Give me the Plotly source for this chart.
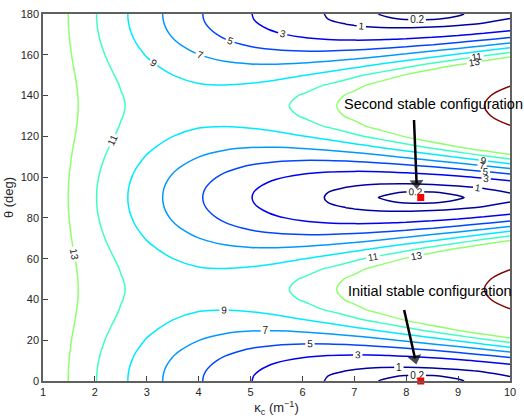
import plotly.graph_objects as go

# ---- data ----
kappa = [1.0, 1.5, 2.0, 2.5, 3.0, 3.5, 4.0, 4.5, 5.0, 5.5, 6.0, 6.5, 7.0, 7.5, 8.0, 8.5, 9.0, 9.5, 10.0]

# theta rows from 0 to 45 deg (field is mirror-symmetric about 0, 45, 90 deg)
theta_quarter = [0, 2.5, 5, 7.5, 10, 12.5, 15, 20, 25, 30, 35, 40, 45]

z_row_00 = [14.92, 12.95, 11.11, 9.42, 7.87, 6.45, 5.18, 4.04, 3.05, 2.20, 1.48, 0.91, 0.47, 0.18, 0.03, 0.01, 0.14, 0.40, 0.81]
z_row_02 = [14.92, 12.95, 11.12, 9.43, 7.88, 6.48, 5.21, 4.09, 3.10, 2.26, 1.56, 0.99, 0.58, 0.30, 0.16, 0.16, 0.30, 0.59, 1.02]
z_row_05 = [14.92, 12.96, 11.14, 9.47, 7.94, 6.55, 5.31, 4.21, 3.26, 2.45, 1.78, 1.26, 0.88, 0.64, 0.55, 0.61, 0.80, 1.14, 1.63]
z_row_07 = [14.93, 12.98, 11.18, 9.53, 8.03, 6.68, 5.48, 4.42, 3.51, 2.76, 2.15, 1.69, 1.38, 1.21, 1.20, 1.33, 1.62, 2.05, 2.63]
z_row_10 = [14.94, 13.01, 11.24, 9.62, 8.16, 6.85, 5.70, 4.70, 3.86, 3.18, 2.64, 2.27, 2.05, 1.98, 2.07, 2.32, 2.72, 3.28, 3.99]
z_row_12 = [14.94, 13.04, 11.30, 9.72, 8.31, 7.06, 5.97, 5.05, 4.29, 3.69, 3.26, 2.99, 2.88, 2.93, 3.15, 3.54, 4.08, 4.79, 5.66]
z_row_15 = [14.95, 13.08, 11.38, 9.85, 8.49, 7.30, 6.29, 5.45, 4.78, 4.29, 3.97, 3.82, 3.84, 4.04, 4.40, 4.94, 5.66, 6.54, 7.60]
z_row_20 = [14.97, 13.16, 11.55, 10.12, 8.90, 7.86, 7.02, 6.37, 5.92, 5.66, 5.59, 5.72, 6.04, 6.55, 7.26, 8.16, 9.26, 10.55, 12.03]
z_row_25 = [14.99, 13.25, 11.73, 10.42, 9.33, 8.45, 7.79, 7.35, 7.12, 7.11, 7.32, 7.74, 8.38, 9.23, 10.30, 11.59, 13.09, 14.81, 16.75]
z_row_30 = [15.01, 13.34, 11.90, 10.70, 9.74, 9.01, 8.52, 8.27, 8.26, 8.48, 8.94, 9.64, 10.58, 11.75, 13.16, 14.81, 16.70, 18.82, 21.18]
z_row_35 = [15.03, 13.41, 12.04, 10.93, 10.07, 9.46, 9.11, 9.02, 9.18, 9.59, 10.26, 11.19, 12.37, 13.80, 15.49, 17.44, 19.64, 22.09, 24.80]
z_row_40 = [15.04, 13.45, 12.13, 11.07, 10.28, 9.76, 9.50, 9.51, 9.78, 10.32, 11.13, 12.20, 13.54, 15.14, 17.01, 19.15, 21.55, 24.22, 27.15]
z_row_45 = [15.05, 13.47, 12.16, 11.13, 10.36, 9.86, 9.64, 9.68, 9.99, 10.58, 11.43, 12.55, 13.95, 15.61, 17.54, 19.74, 22.22, 24.96, 27.97]

contour_levels = [0.2, 1, 3, 5, 7, 9, 11, 13, 25]
level_colors = ["#00008f", "#0000a0", "#0000f3", "#0046ff", "#0098ff",
                "#00eaff", "#3effc1", "#90ff6f", "#800000"]

stable_kappa = [8.28, 8.28]
stable_theta = [0, 90]
stable_names = ["Initial stable configuration", "Second stable configuration"]

# ---- build the full 0..180 deg table by mirroring ----
z_quarter = [z_row_00, z_row_02, z_row_05, z_row_07, z_row_10, z_row_12, z_row_15,
             z_row_20, z_row_25, z_row_30, z_row_35, z_row_40, z_row_45]
theta_half = theta_quarter + [90 - t for t in theta_quarter[-2::-1]]
z_half = z_quarter + z_quarter[-2::-1]
theta_full = theta_half + [180 - t for t in theta_half[-2::-1]]
z_full = z_half + z_half[-2::-1]

FONT = "Liberation Sans, Arial, Helvetica, sans-serif"

fig = go.Figure()
for lev, col in zip(contour_levels, level_colors):
    fig.add_trace(go.Contour(
        x=kappa, y=theta_full, z=z_full,
        autocontour=False,
        contours=dict(start=lev, end=lev, size=1, coloring="none",
                      showlabels=True,
                      labelfont=dict(family=FONT, size=10, color="#1a1a1a"),
                      labelformat=".1f" if lev < 1 else ".0f"),
        line=dict(color=col, width=1.5, smoothing=1.0),
        showscale=False, hoverinfo="skip",
    ))

# arrows pointing at the stable configurations (drawn as line + arrow-head marker)
text_pos = [(8.46, 44.3), (8.53, 135.9)]
arrow_tail = [(7.96, 34.8), (8.15, 128.0)]
arrow_head = [(8.17, 11.0), (8.20, 97.0)]
for (ax_, ay_), (hx, hy) in zip(arrow_tail, arrow_head):
    fig.add_trace(go.Scatter(
        x=[ax_, hx], y=[ay_, hy], mode="lines+markers",
        line=dict(color="black", width=2.5),
        marker=dict(symbol=["circle", "triangle-up"], size=[0.1, 12], color="black",
                    angleref="previous", line=dict(width=0)),
        hoverinfo="skip", showlegend=False, cliponaxis=False,
    ))

fig.add_trace(go.Scatter(
    x=stable_kappa, y=stable_theta, mode="markers",
    marker=dict(symbol="square", size=7, color="red"),
    cliponaxis=False, hoverinfo="skip", showlegend=False,
))

annotations = []
for name, (tx, ty) in zip(stable_names, text_pos):
    annotations.append(dict(x=tx, y=ty, xref="x", yref="y", text=name, showarrow=False,
                            font=dict(family=FONT, size=14.5, color="black"),
                            xanchor="center", yanchor="middle"))

axis_common = dict(showgrid=False, zeroline=False, ticks="inside", ticklen=5,
                   tickwidth=1, tickcolor="#404040", showline=True, linecolor="#606060",
                   linewidth=1.5, mirror=True, automargin=False,
                   tickfont=dict(family=FONT, size=11, color="#262626"))

fig.update_layout(
    width=524, height=418,
    margin=dict(l=43, r=14, t=14, b=37, autoexpand=False),
    paper_bgcolor="white", plot_bgcolor="white",
    showlegend=False,
    xaxis=dict(range=[1, 10], tickvals=list(range(1, 11)),
               title=dict(text="κ<sub>c</sub> (m<sup>−1</sup>)", standoff=6,
                          font=dict(family=FONT, size=13, color="#262626")),
               **axis_common),
    yaxis=dict(range=[0, 180], tickvals=list(range(0, 181, 20)),
               title=dict(text="θ (deg)", standoff=4,
                          font=dict(family=FONT, size=13, color="#262626")),
               **axis_common),
    annotations=annotations,
)

fig.write_html("out.html", config={"displayModeBar": False},
               post_script="document.body.style.margin='0px';")
